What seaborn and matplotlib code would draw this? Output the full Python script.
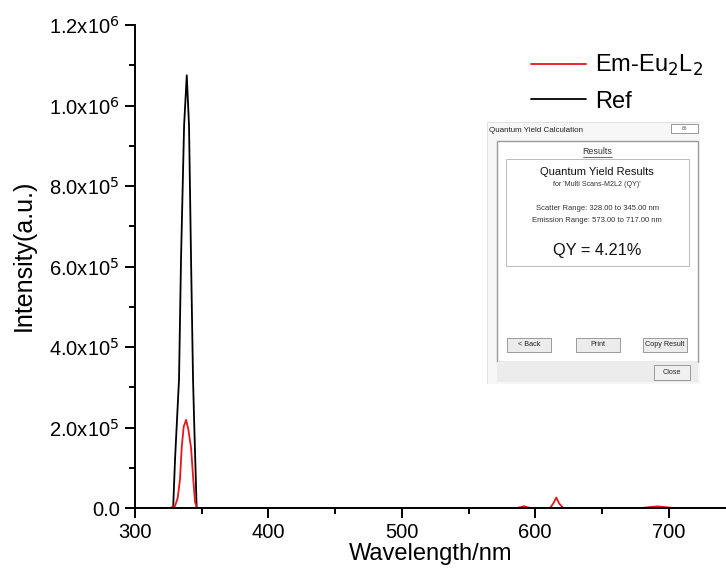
import numpy as np
import pandas as pd
import matplotlib
matplotlib.use("Agg")
import matplotlib.pyplot as plt
from matplotlib.lines import Line2D
from matplotlib.patches import Rectangle
from matplotlib.ticker import MultipleLocator, FuncFormatter
import seaborn as sns

# Emission of sample (red)
em_wl = [300, 326, 330, 332, 333.7, 335, 336.5, 338.3, 340, 342, 343.7, 345, 346.5,
         586, 589, 591.5, 594, 597, 611, 613.5, 615.8, 618, 621, 680, 686, 692, 698, 703, 743]
em_int = [0, 0, 5e3, 2.5e4, 7e4, 1.5e5, 2.02e5, 2.19e5, 1.95e5, 1.5e5, 7e4, 1.5e4, 0,
          0, 2e3, 4.5e3, 2e3, 0, 0, 1.1e4, 2.6e4, 1.1e4, 0, 0, 2.5e3, 4e3, 2e3, 0, 0]

# Reference scatter (black), drawn in separate segments
ref_wl = [321, 328.6, 330, 333, 334.5, 336.8, 338.8, 340.5, 342, 343.5, 344.3, 346.2, 352,
          586, 597, 611, 622, 680, 703]
ref_int = [0, 0, 1.2e5, 3.2e5, 6.2e5, 9.5e5, 1.075e6, 9.5e5, 6.2e5, 3.2e5, 2.2e5, 0, 0,
           0, 0, 0, 0, 0, 0]
ref_seg = [0] * 13 + [1, 1, 2, 2, 3, 3]

em_df = pd.DataFrame({"wl": em_wl, "intensity": em_int})
ref_df = pd.DataFrame({"wl": ref_wl, "intensity": ref_int, "seg": ref_seg})

sns.set_style("ticks")
plt.rcParams['font.family'] = ['Liberation Sans', 'DejaVu Sans']
plt.rcParams['axes.edgecolor'] = 'black'
plt.rcParams['xtick.color'] = 'black'
plt.rcParams['ytick.color'] = 'black'
plt.rcParams['axes.labelcolor'] = 'black'
plt.rcParams['text.color'] = 'black'

fig = plt.figure(figsize=(7.26, 5.73), dpi=100)
ax = fig.add_axes([135 / 726, 1 - 508 / 573, 1 - 135 / 726, (508 - 25) / 573])

sns.lineplot(data=ref_df, x="wl", y="intensity", units="seg", estimator=None,
             color="black", lw=1.3, ax=ax, sort=False)
sns.lineplot(data=em_df, x="wl", y="intensity", estimator=None,
             color="#e8141c", lw=1.3, ax=ax, sort=False)

ax.set_xlim(300, 743)
ax.set_ylim(0, 1.2e6)
ax.xaxis.set_major_locator(MultipleLocator(100))
ax.xaxis.set_minor_locator(MultipleLocator(50))
ax.yaxis.set_major_locator(MultipleLocator(2e5))
ax.yaxis.set_minor_locator(MultipleLocator(1e5))


def fmt_y(v, pos):
    if abs(v) < 1:
        return "0.0"
    if v < 0:
        return ""
    e = int(np.floor(np.log10(v) + 1e-9))
    return r"%.1fx10$^{%d}$" % (v / 10 ** e, e)


ax.yaxis.set_major_formatter(FuncFormatter(fmt_y))
ax.tick_params(which="major", length=7, width=1.4, labelsize=14.5, direction="out", pad=4)
ax.tick_params(which="minor", length=4, width=1.4, direction="out")
for s in ["top", "right"]:
    ax.spines[s].set_visible(False)
for s in ["left", "bottom"]:
    ax.spines[s].set_linewidth(1.4)
ax.set_xlabel("Wavelength/nm", fontsize=17, labelpad=0.5)
ax.set_ylabel("Intensity(a.u.)", fontsize=18)
ax.yaxis.set_label_coords(-0.168, 0.524)

handles = [Line2D([], [], color="#e8141c", lw=1.3), Line2D([], [], color="black", lw=1.3)]
fig.legend(handles, [r"Em-Eu$_2$L$_2$", "Ref"], loc="upper left",
           bbox_to_anchor=(510 / 726, 1 - 32 / 573), frameon=False, fontsize=17,
           handlelength=2.3, handletextpad=0.4, labelspacing=0.52)

# inset: screenshot of the quantum yield dialog (pixel coordinates)
ins = fig.add_axes([487 / 726, 1 - 384 / 573, (700 - 487) / 726, (384 - 122) / 573])
ins.set_xlim(487, 700)
ins.set_ylim(384, 122)
ins.axis("off")
ins.add_patch(Rectangle((487, 122), 213, 262, fc="#f7f7f7", ec="#dddddd", lw=0.6))
ins.add_patch(Rectangle((671, 124), 27, 9, fc="white", ec="#888888", lw=0.6))
ins.text(684.5, 128.5, "66", fontsize=3.5, ha="center", va="center", color="#555555")
ins.text(489, 130.5, "Quantum Yield Calculation", fontsize=5.8, va="center", color="#222222")
ins.add_patch(Rectangle((497, 141), 201, 221, fc="white", ec="#9a9a9a", lw=1.0))
ins.text(597, 152, "Results", fontsize=6.4, ha="center", va="center", color="#333333")
ins.plot([583, 612], [156.8, 156.8], color="#333333", lw=0.5)
ins.add_patch(Rectangle((506, 159), 183, 107, fc="white", ec="#bbbbbb", lw=0.7))
ins.text(597, 172, "Quantum Yield Results", fontsize=8, ha="center", va="center", color="#111111")
ins.text(597, 185, "for 'Multi Scans-M2L2 (QY)'", fontsize=5.1, ha="center", va="center", color="#333333")
ins.text(597, 209, "Scatter Range: 328.00 to 345.00 nm", fontsize=5.5, ha="center", va="center", color="#333333")
ins.text(597, 221, "Emission Range: 573.00 to 717.00 nm", fontsize=5.5, ha="center", va="center", color="#333333")
ins.text(597, 251, "QY = 4.21%", fontsize=11.8, ha="center", va="center", color="#111111")
for bx, label in [(507, "< Back"), (576, "Print"), (643, "Copy Result")]:
    ins.add_patch(Rectangle((bx, 338), 44, 14, fc="#ececec", ec="#8c8c8c", lw=0.6))
    ins.text(bx + 22, 345, label, fontsize=5.2, ha="center", va="center", color="#222222")
ins.add_patch(Rectangle((497, 362), 201, 20, fc="#ececec", ec="none"))
ins.add_patch(Rectangle((654, 365), 36, 15, fc="#f0f0f0", ec="#8c8c8c", lw=0.6))
ins.text(672, 372.5, "Close", fontsize=5.2, ha="center", va="center", color="#222222")

fig.savefig("out.png", dpi=100)
